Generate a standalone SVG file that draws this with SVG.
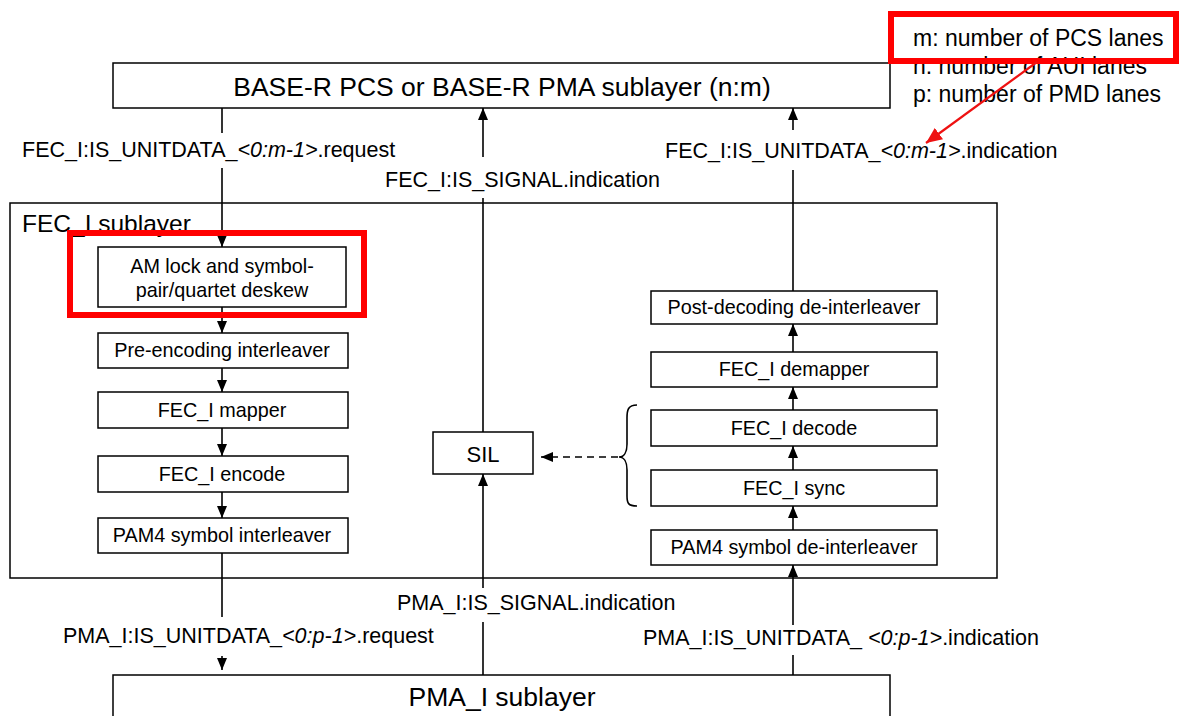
<svg xmlns="http://www.w3.org/2000/svg" width="1183" height="716" viewBox="0 0 1183 716">
  <style>
    .box { fill: #ffffff; stroke: #000000; stroke-width: 1.5; }
    .frame { fill: none; stroke: #000000; stroke-width: 1.5; }
    .line { fill: none; stroke: #000000; stroke-width: 1.6; }
    .dash { fill: none; stroke: #000000; stroke-width: 1.6; stroke-dasharray: 7 5; }
    .hl { fill: none; stroke: #ff0000; stroke-width: 6; }
    .red { fill: none; stroke: #ee1111; stroke-width: 2.2; }
    text { font-family: "Liberation Sans", Arial, sans-serif; fill: #000000; }
    .big { font-size: 26.5px; text-anchor: middle; }
    .node { font-size: 19.8px; text-anchor: middle; }
    .lbl { font-size: 21.5px; }
    .leg { font-size: 23px; }
    .it { font-style: italic; }
  </style>
  <defs>
    <marker id="ah" markerUnits="userSpaceOnUse" markerWidth="12" markerHeight="10" refX="12" refY="5" orient="auto">
      <path d="M0,0 L12,5 L0,10 z" fill="#000000"/>
    </marker>
    <marker id="ahRed" markerUnits="userSpaceOnUse" markerWidth="16" markerHeight="14" refX="16" refY="7" orient="auto">
      <path d="M0,0 L16,7 L0,14 z" fill="#ee1111"/>
    </marker>
  </defs>

  <!-- upper sublayer -->
  <g id="pcs">
    <rect class="box" x="113" y="63" width="777" height="45"/>
    <text class="big" x="502" y="96">BASE-R PCS or BASE-R PMA sublayer (n:m)</text>
  </g>

  <!-- lane legend -->
  <g id="legend">
    <text class="leg" x="913" y="46">m: number of PCS lanes</text>
    <text class="leg" x="913" y="74">n: number of AUI lanes</text>
    <text class="leg" x="913" y="102">p: number of PMD lanes</text>
  </g>

  <!-- FEC_I sublayer frame -->
  <g id="fec">
    <rect class="frame" x="10" y="203" width="987" height="375"/>
    <text x="22" y="232" font-size="24.5">FEC_I sublayer</text>
  </g>

  <!-- transmit path -->
  <g id="deskew">
    <rect class="box" x="98" y="247" width="248" height="60"/>
    <text class="node" x="222" y="273">AM lock and symbol-</text>
    <text class="node" x="222" y="297">pair/quartet deskew</text>
  </g>
  <g id="preenc">
    <rect class="box" x="98" y="333" width="250" height="35"/>
    <text class="node" x="222" y="357">Pre-encoding  interleaver</text>
  </g>
  <g id="mapper">
    <rect class="box" x="98" y="392" width="250" height="36"/>
    <text class="node" x="222" y="417">FEC_I mapper</text>
  </g>
  <g id="encode">
    <rect class="box" x="98" y="456" width="250" height="36"/>
    <text class="node" x="222" y="481">FEC_I encode</text>
  </g>
  <g id="txpam4">
    <rect class="box" x="98" y="518" width="250" height="35"/>
    <text class="node" x="222" y="542">PAM4 symbol interleaver</text>
  </g>

  <!-- SIL -->
  <g id="sil">
    <rect class="box" x="433" y="432" width="100" height="42"/>
    <text x="483" y="462" font-size="22" text-anchor="middle">SIL</text>
  </g>

  <!-- receive path -->
  <g id="postdec">
    <rect class="box" x="651" y="291" width="286" height="33"/>
    <text class="node" x="794" y="314">Post-decoding  de-interleaver</text>
  </g>
  <g id="demapper">
    <rect class="box" x="651" y="352" width="286" height="35"/>
    <text class="node" x="794" y="376">FEC_I demapper</text>
  </g>
  <g id="decode">
    <rect class="box" x="651" y="410" width="286" height="36"/>
    <text class="node" x="794" y="435">FEC_I decode</text>
  </g>
  <g id="sync">
    <rect class="box" x="651" y="470" width="286" height="36"/>
    <text class="node" x="794" y="495">FEC_I sync</text>
  </g>
  <g id="rxpam4">
    <rect class="box" x="651" y="530" width="286" height="35"/>
    <text class="node" x="794" y="554">PAM4 symbol de-interleaver</text>
  </g>

  <!-- lower sublayer -->
  <g id="pma">
    <rect class="box" x="113" y="675" width="777" height="60"/>
    <text class="big" x="502" y="706">PMA_I sublayer</text>
  </g>

  <!-- connectors -->
  <g id="connectors">
    <!-- transmit column -->
    <line class="line" x1="222" y1="108" x2="222" y2="133"/>
    <line class="line" x1="222" y1="168" x2="222" y2="247" marker-end="url(#ah)"/>
    <line class="line" x1="222" y1="307" x2="222" y2="333" marker-end="url(#ah)"/>
    <line class="line" x1="222" y1="368" x2="222" y2="392" marker-end="url(#ah)"/>
    <line class="line" x1="222" y1="428" x2="222" y2="456" marker-end="url(#ah)"/>
    <line class="line" x1="222" y1="492" x2="222" y2="518" marker-end="url(#ah)"/>
    <line class="line" x1="222" y1="553" x2="222" y2="617"/>
    <line class="line" x1="222" y1="656" x2="222" y2="670" marker-end="url(#ah)"/>

    <!-- signal column -->
    <line class="line" x1="483" y1="157" x2="483" y2="108" marker-end="url(#ah)"/>
    <line class="line" x1="483" y1="198" x2="483" y2="432"/>
    <line class="line" x1="483" y1="588" x2="483" y2="474" marker-end="url(#ah)"/>
    <line class="line" x1="483" y1="622" x2="483" y2="675"/>

    <!-- receive column -->
    <line class="line" x1="793" y1="130" x2="793" y2="108" marker-end="url(#ah)"/>
    <line class="line" x1="793" y1="170" x2="793" y2="291"/>
    <line class="line" x1="793" y1="352" x2="793" y2="324" marker-end="url(#ah)"/>
    <line class="line" x1="793" y1="410" x2="793" y2="387" marker-end="url(#ah)"/>
    <line class="line" x1="793" y1="470" x2="793" y2="446" marker-end="url(#ah)"/>
    <line class="line" x1="793" y1="530" x2="793" y2="506" marker-end="url(#ah)"/>
    <line class="line" x1="793" y1="625" x2="793" y2="565" marker-end="url(#ah)"/>
    <line class="line" x1="793" y1="655" x2="793" y2="675"/>

    <!-- brace over decode/sync and dashed link to SIL -->
    <path class="line" d="M637,405 C628,405 627,410 627,418 L627,444 C627,452 624,457 619,457 C624,457 627,462 627,470 L627,496 C627,503 628,506 637,506"/>
    <line class="dash" x1="618" y1="457" x2="541" y2="457" marker-end="url(#ah)"/>
  </g>

  <!-- service primitive labels -->
  <g id="labels">
    <text class="lbl" x="22" y="157">FEC_I:IS_UNITDATA_<tspan class="it">&lt;0:m-1&gt;</tspan>.request</text>
    <text class="lbl" x="385" y="187">FEC_I:IS_SIGNAL.indication</text>
    <text class="lbl" x="665" y="158">FEC_I:IS_UNITDATA_<tspan class="it">&lt;0:m-1&gt;</tspan>.indication</text>
    <text class="lbl" x="397" y="610">PMA_I:IS_SIGNAL.indication</text>
    <text class="lbl" x="63" y="643">PMA_I:IS_UNITDATA_<tspan class="it">&lt;0:p-1&gt;</tspan>.request</text>
    <text class="lbl" x="643" y="645">PMA_I:IS_UNITDATA_ <tspan class="it">&lt;0:p-1&gt;</tspan>.indication</text>
  </g>

  <!-- highlights -->
  <g id="highlights">
    <rect class="hl" x="891" y="14" width="285" height="47"/>
    <rect class="hl" x="70" y="233" width="294" height="82"/>
    <line class="red" x1="1037" y1="62" x2="926" y2="143" marker-end="url(#ahRed)"/>
  </g>
</svg>
